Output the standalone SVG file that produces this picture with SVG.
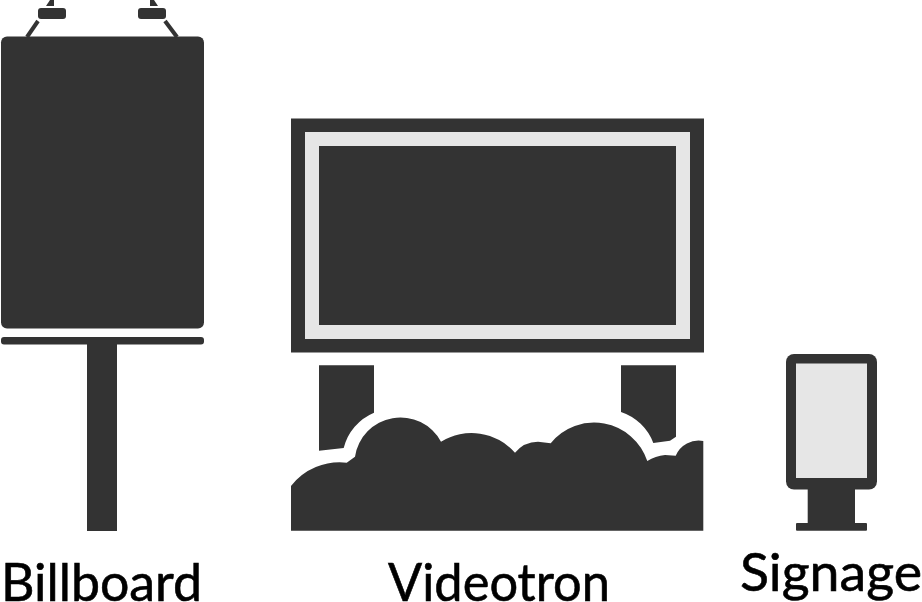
<svg xmlns="http://www.w3.org/2000/svg" width="922" height="602" viewBox="0 0 922 602">
<style>
.d{fill:#333333}
.l{fill:#e6e6e6}
.s{stroke:#333333;stroke-width:4;fill:none}
text{font-family:"Lato","Noto Sans",sans-serif;font-size:53px;fill:#000000;stroke:#000000;stroke-width:0.6}
</style>
<rect width="922" height="602" fill="#ffffff"/>
<g id="billboard">
<rect class="d" x="1" y="36.500" width="203" height="292" rx="6"/>
<rect class="d" x="1" y="337" width="203" height="7.500" rx="3"/>
<rect class="d" x="87" y="344" width="30" height="187"/>
<rect class="d" x="38" y="8" width="28" height="11" rx="3"/>
<rect class="d" x="138" y="8" width="28" height="11" rx="3"/>
<path class="d" d="M46 6L50 0H54V6Z"/>
<path class="d" d="M150 0H154L158 6H150Z"/>
<path class="s" d="M38 21L27 37"/>
<path class="s" d="M165 21L177 37"/>
<text x="1" y="601" textLength="201" lengthAdjust="spacingAndGlyphs">Billboard</text>
</g>
<g id="videotron">
<rect class="d" x="291" y="118.500" width="413" height="234"/>
<rect class="l" x="305" y="132" width="385" height="207"/>
<rect class="d" x="319" y="146" width="357" height="179"/>
<path class="d" d="M319 365.300H374V412.700A52 52 0 0 0 343.700 448L319 450.700Z"/>
<path class="d" d="M621 365.300H676V436.700L670 440.700L653.300 443A52 52 0 0 0 621 412Z"/>
<path class="d" d="M291 486A62 62 0 0 1 346.700 462.700L355 456.700A46 46 0 0 1 441 441.700A58 58 0 0 1 515 452.700A30 30 0 0 1 538 441.700L550.700 443.300A56 56 0 0 1 647.300 461A40 40 0 0 1 665 455L675.700 455.700A25 25 0 0 1 703.300 441V530.700H291Z"/>
<text x="388" y="601" textLength="222" lengthAdjust="spacingAndGlyphs">Videotron</text>
</g>
<g id="signage">
<rect class="d" x="786" y="354" width="91" height="135.500" rx="8"/>
<rect class="l" x="796" y="363.500" width="71" height="114.500"/>
<rect class="d" x="807.700" y="489" width="47.300" height="35"/>
<rect class="d" x="796" y="523" width="71" height="7.700" rx="1"/>
<text x="740" y="591" textLength="182" lengthAdjust="spacingAndGlyphs">Signage</text>
</g>
</svg>
